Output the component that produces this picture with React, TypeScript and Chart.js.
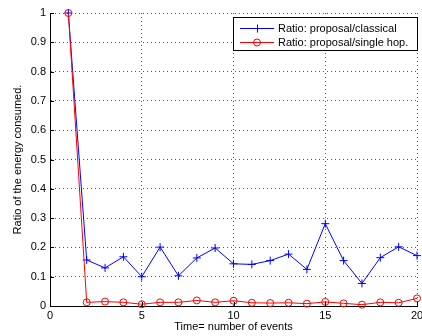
import { useEffect, useRef } from "react";
import { Chart, registerables } from "chart.js";

Chart.register(...registerables);

// Number of events on the time axis
const events = [1, 2, 3, 4, 5, 6, 7, 8, 9, 10, 11, 12, 13, 14, 15, 16, 17, 18, 19, 20];

// Energy ratio: proposal vs classical scheme
const classicalRatio = [
  1, 0.157, 0.13, 0.168, 0.1, 0.201, 0.103, 0.164, 0.198, 0.144,
  0.142, 0.155, 0.177, 0.125, 0.281, 0.155, 0.077, 0.165, 0.202, 0.172,
];

// Energy ratio: proposal vs single hop
const singleHopRatio = [
  1, 0.0125, 0.015, 0.0125, 0.006, 0.0125, 0.0125, 0.019, 0.0125, 0.018,
  0.011, 0.01, 0.011, 0.008, 0.014, 0.009, 0.0045, 0.0125, 0.011, 0.026,
];

const seriesLabels = ["Ratio: proposal/classical", "Ratio: proposal/single hop."];
const xTitle = "Time= number of events";
const yTitle = "Ratio of the energy consumed.";

const FONT = "'Liberation Sans', Arial, Helvetica, sans-serif";
const BLUE = "#0000ff";
const RED = "#ff0000";

// Short inward tick marks on the left and bottom axes
const axisTicks = {
  id: "axisTicks",
  afterDatasetsDraw(chart: any) {
    const { ctx, chartArea: a, scales } = chart;
    const xs = scales.x;
    const ys = scales.y;
    ctx.save();
    ctx.strokeStyle = "#000";
    ctx.lineWidth = 1;
    ctx.beginPath();
    xs.ticks.forEach((t: any) => {
      const px = Math.round(xs.getPixelForValue(t.value)) + 0.5;
      ctx.moveTo(px, a.bottom);
      ctx.lineTo(px, a.bottom - 4);
    });
    ys.ticks.forEach((t: any) => {
      const py = Math.round(ys.getPixelForValue(t.value)) + 0.5;
      ctx.moveTo(a.left, py);
      ctx.lineTo(a.left + 4, py);
    });
    ctx.stroke();
    ctx.restore();
  },
};

// Boxed legend in the upper right corner
const boxLegend = {
  id: "boxLegend",
  afterDraw(chart: any) {
    const { ctx } = chart;
    const x0 = 233.5;
    const y0 = 17.5;
    const w = 184;
    const h = 33;
    ctx.save();
    ctx.fillStyle = "#fff";
    ctx.fillRect(x0, y0, w, h);
    ctx.strokeStyle = "#000";
    ctx.lineWidth = 1;
    ctx.strokeRect(x0, y0, w, h);

    const rows = [
      { y: 28.5, color: BLUE, marker: "cross" },
      { y: 42.5, color: RED, marker: "circle" },
    ];
    rows.forEach((r, i) => {
      ctx.strokeStyle = r.color;
      ctx.beginPath();
      ctx.moveTo(240, r.y);
      ctx.lineTo(274, r.y);
      ctx.stroke();
      const cx = 257;
      ctx.beginPath();
      if (r.marker === "cross") {
        ctx.moveTo(cx - 4, r.y);
        ctx.lineTo(cx + 4, r.y);
        ctx.moveTo(cx + 0.5, r.y - 4);
        ctx.lineTo(cx + 0.5, r.y + 4);
      } else {
        ctx.arc(cx, r.y, 3.5, 0, Math.PI * 2);
      }
      ctx.stroke();
      ctx.fillStyle = "#000";
      ctx.font = `11px ${FONT}`;
      ctx.textBaseline = "middle";
      ctx.textAlign = "left";
      ctx.fillText(seriesLabels[i], 278, r.y);
    });
    ctx.restore();
  },
};

export default function App() {
  const canvasRef = useRef<HTMLCanvasElement | null>(null);

  useEffect(() => {
    if (!canvasRef.current) return;
    const chart = new Chart(canvasRef.current, {
      type: "line",
      data: {
        datasets: [
          {
            label: seriesLabels[0],
            data: events.map((e, i) => ({ x: e, y: classicalRatio[i] })),
            borderColor: BLUE,
            backgroundColor: BLUE,
            borderWidth: 1,
            pointStyle: "cross",
            pointRadius: 4,
            pointBorderWidth: 1,
            pointBorderColor: BLUE,
            tension: 0,
            clip: false,
            order: 1,
          },
          {
            label: seriesLabels[1],
            data: events.map((e, i) => ({ x: e, y: singleHopRatio[i] })),
            borderColor: RED,
            backgroundColor: "transparent",
            borderWidth: 1,
            pointStyle: "circle",
            pointRadius: 3.5,
            pointBorderWidth: 1,
            pointBorderColor: RED,
            pointBackgroundColor: "transparent",
            tension: 0,
            clip: false,
            order: 0,
          },
        ],
      },
      options: {
        animation: false,
        responsive: false,
        events: [],
        layout: { padding: { top: 13, right: 3, left: 0, bottom: 0 } },
        plugins: {
          legend: { display: false },
          tooltip: { enabled: false },
        },
        scales: {
          x: {
            type: "linear",
            min: 0,
            max: 20,
            afterFit: (s: any) => {
              s.height = 30;
              // let the last tick label run past the canvas edge
              s.paddingLeft = 0;
              s.paddingRight = 0;
            },
            ticks: {
              stepSize: 5,
              padding: 3,
              color: "#000",
              font: { family: FONT, size: 11 },
              maxRotation: 0,
              autoSkip: false,
            },
            grid: { color: "#555", lineWidth: 1, drawTicks: false },
            border: { display: true, color: "#000", width: 1, dash: [1, 3] },
            title: {
              display: true,
              text: xTitle,
              color: "#000",
              font: { family: FONT, size: 11 },
              padding: { top: 0, bottom: 2.5 },
            },
          },
          y: {
            type: "linear",
            min: 0,
            max: 1,
            afterFit: (s: any) => {
              s.width = 50;
              s.paddingTop = 0;
              s.paddingBottom = 0;
            },
            ticks: {
              stepSize: 0.1,
              padding: 4,
              color: "#000",
              font: { family: FONT, size: 11 },
              callback: (v: any) => String(Number(Number(v).toFixed(1))),
            },
            grid: { color: "#555", lineWidth: 1, drawTicks: false },
            border: { display: true, color: "#000", width: 1, dash: [1, 3] },
            title: {
              display: true,
              text: yTitle,
              color: "#000",
              font: { family: FONT, size: 11 },
              padding: { top: 11, bottom: 0 },
            },
          },
        },
      },
      plugins: [axisTicks, boxLegend],
    });
    return () => chart.destroy();
  }, []);

  return (
    <div style={{ position: "absolute", left: 0, top: 0, width: 422, height: 336, background: "#fff" }}>
      <canvas ref={canvasRef} width={422} height={336} />
    </div>
  );
}
